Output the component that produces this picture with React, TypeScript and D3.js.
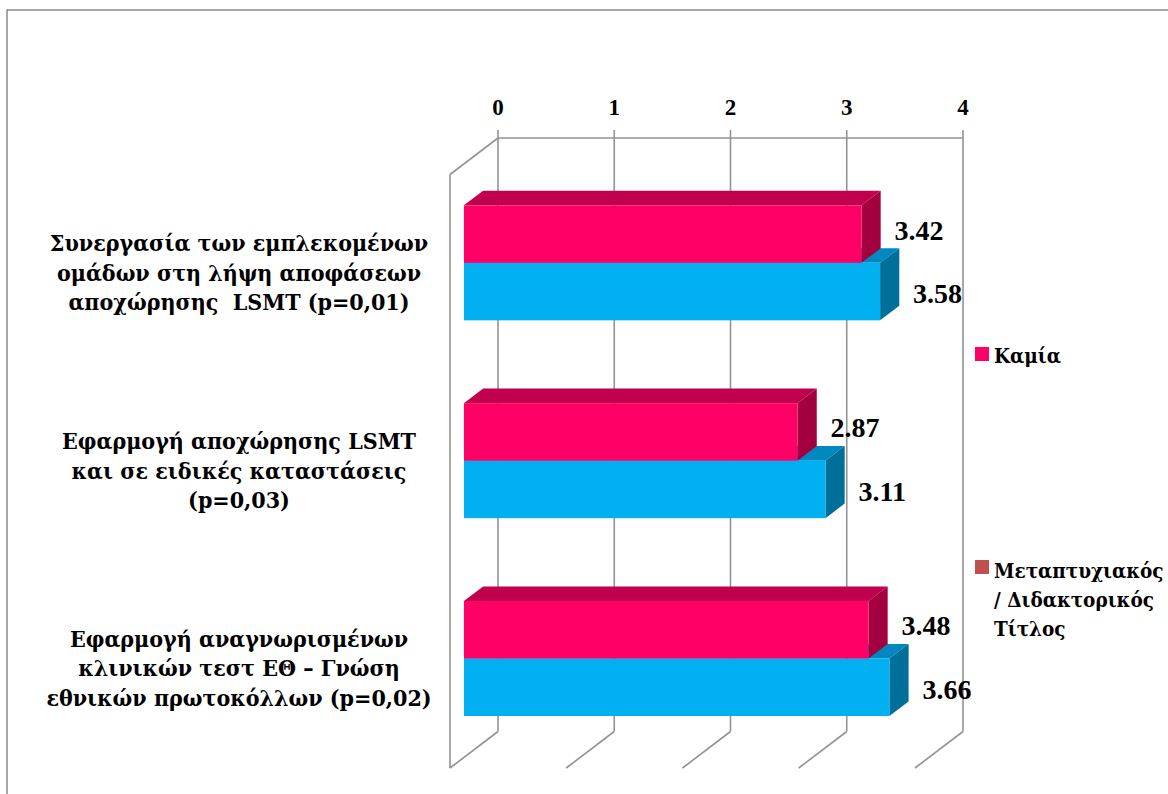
import React from "react";
import * as d3 from "d3";

// Survey items (category axis), each split into the lines shown beside the bars
const categories = [
  "Συνεργασία των εμπλεκομένων ομάδων στη λήψη αποφάσεων αποχώρησης LSMT (p=0,01)",
  "Εφαρμογή αποχώρησης LSMT και σε ειδικές καταστάσεις (p=0,03)",
  "Εφαρμογή αναγνωρισμένων κλινικών τεστ ΕΘ – Γνώση εθνικών πρωτοκόλλων (p=0,02)",
];
const categoryLines = [
  ["Συνεργασία των εμπλεκομένων", "ομάδων στη λήψη αποφάσεων", "αποχώρησης  LSMT (p=0,01)"],
  ["Εφαρμογή αποχώρησης LSMT", "και σε ειδικές καταστάσεις", "(p=0,03)"],
  ["Εφαρμογή αναγνωρισμένων", "κλινικών τεστ ΕΘ – Γνώση", "εθνικών πρωτοκόλλων (p=0,02)"],
];

// Series
const seriesNames = ["Καμία", "Μεταπτυχιακός / Διδακτορικός Τίτλος"];
const valuesNone = [3.42, 2.87, 3.48];
const valuesPostgrad = [3.58, 3.11, 3.66];

// Value axis ticks
const tickValues = [0, 1, 2, 3, 4];

// Legend text lines
const legendLines = [["Καμία"], ["Μεταπτυχιακός", "/ Διδακτορικός", "Τίτλος"]];

const FONT = "'Liberation Serif', 'Times New Roman', serif";
const GREEK_FONT = "'DejaVu Serif Condensed', 'DejaVu Serif', 'Liberation Serif', serif";

const seriesStyles = [
  { front: "#FF0066", top: "#C0004C", side: "#A2003E", legend: "#FF0066" },
  { front: "#00B0F0", top: "#0088BF", side: "#006F99", legend: "#C0504D" },
];

export default function App() {
  const width = 1168;
  const height = 794;

  // Back wall of the 3-D plot area
  const wallTop = 138;
  const wallBottom = 731.5;
  const x = d3.scaleLinear().domain([0, 4]).range([498, 963]);

  // Oblique depth vector (back wall -> front edge of the floor)
  const depthX = -48;
  const depthY = 36.5;
  const dFront = 0.71;
  const dBack = 0.31;

  const yBand = d3.scaleBand<string>().domain(categories).range([wallTop, wallBottom]).padding(0);
  const groupH = 115;
  const ySeries = d3.scaleBand<string>().domain(seriesNames).range([0, groupH]).padding(0);

  const series = [valuesNone, valuesPostgrad];
  const gridColor = "#939393";

  const pt = (px: number, py: number) => `${px},${py}`;

  // Bars drawn back-to-front: lower series first so the upper one overlaps its top face
  const bars: React.ReactNode[] = [];
  const labels: React.ReactNode[] = [];
  categories.forEach((cat, ci) => {
    const bandTop = (yBand(cat) as number) + (yBand.bandwidth() - groupH) / 2;
    for (let si = series.length - 1; si >= 0; si--) {
      const v = series[si][ci];
      const st = seriesStyles[si];
      const yb = bandTop + (ySeries(seriesNames[si]) as number);
      const h = ySeries.bandwidth();
      // front face
      const fx0 = x(0) + dFront * depthX;
      const fx1 = x(v) + dFront * depthX;
      const fy0 = yb + dFront * depthY;
      const fy1 = fy0 + h;
      // back face offset
      const ox = (dBack - dFront) * depthX;
      const oy = (dBack - dFront) * depthY;
      bars.push(
        <g key={`b-${ci}-${si}`}>
          <polygon
            points={[pt(fx0, fy0), pt(fx1, fy0), pt(fx1 + ox, fy0 + oy), pt(fx0 + ox, fy0 + oy)].join(" ")}
            fill={st.top}
          />
          <polygon
            points={[pt(fx1, fy0), pt(fx1 + ox, fy0 + oy), pt(fx1 + ox, fy1 + oy), pt(fx1, fy1)].join(" ")}
            fill={st.side}
          />
          <rect x={fx0} y={fy0} width={fx1 - fx0} height={h} fill={st.front} />
        </g>
      );
      labels.push(
        <text
          key={`l-${ci}-${si}`}
          x={fx1 + 33}
          y={fy0 + h / 2 + (si === 0 ? -4 : 2)}
          dominantBaseline="central"
          fontFamily={FONT}
          fontWeight="bold"
          fontSize={28}
          fill="#000"
        >
          {v.toFixed(2)}
        </text>
      );
    }
  });

  return (
    <svg
      width={width}
      height={height}
      style={{ position: "absolute", left: 0, top: 0, background: "#fff" }}
    >
      {/* chart frame */}
      <path d={`M7,${height + 5} L7,10 L${width + 5},10`} fill="none" stroke="#8a8a8a" strokeWidth={1.5} />

      {/* walls and grid */}
      <g stroke={gridColor} strokeWidth={1.6} fill="none">
        <line x1={x(0)} y1={wallTop} x2={x(4)} y2={wallTop} />
        <line x1={x(0)} y1={wallTop} x2={x(0) + depthX} y2={wallTop + depthY} />
        <line x1={x(0) + depthX} y1={wallTop + depthY} x2={x(0) + depthX} y2={wallBottom + depthY} />
        {tickValues.map((t) => (
          <g key={`g-${t}`}>
            <line x1={x(t)} y1={wallTop - 8} x2={x(t)} y2={wallBottom} />
            <line x1={x(t)} y1={wallBottom} x2={x(t) + depthX} y2={wallBottom + depthY} />
          </g>
        ))}
      </g>

      {/* value axis labels */}
      {tickValues.map((t) => (
        <text
          key={`t-${t}`}
          x={x(t)}
          y={115}
          textAnchor="middle"
          fontFamily={FONT}
          fontWeight="bold"
          fontSize={23}
        >
          {t}
        </text>
      ))}

      {bars}
      {labels}

      {/* category labels */}
      {categories.map((cat, ci) => {
        const cy = (yBand(cat) as number) + yBand.bandwidth() / 2 + dFront * depthY;
        const lines = categoryLines[ci];
        return (
          <text
            key={`c-${ci}`}
            textAnchor="middle"
            fontFamily={GREEK_FONT}
            fontStretch="condensed"
            fontWeight="bold"
            fontSize={23}
          >
            {lines.map((ln, li) => (
              <tspan key={li} x={239} y={cy + 18 + (li - 1) * 29.5} style={{ whiteSpace: "pre" }}>
                {ln}
              </tspan>
            ))}
          </text>
        );
      })}

      {/* legend */}
      {legendLines.map((lines, i) => {
        const top = i === 0 ? 347 : 560;
        const first = i === 0 ? 363 : 578;
        return (
          <g key={`lg-${i}`}>
            <rect x={975} y={top} width={14} height={14} fill={seriesStyles[i].legend} />
            <text fontFamily={GREEK_FONT} fontStretch="condensed" fontWeight="bold" fontSize={20.5}>
              {lines.map((ln, li) => (
                <tspan key={li} x={994} y={first + li * 29}>
                  {ln}
                </tspan>
              ))}
            </text>
          </g>
        );
      })}
    </svg>
  );
}
